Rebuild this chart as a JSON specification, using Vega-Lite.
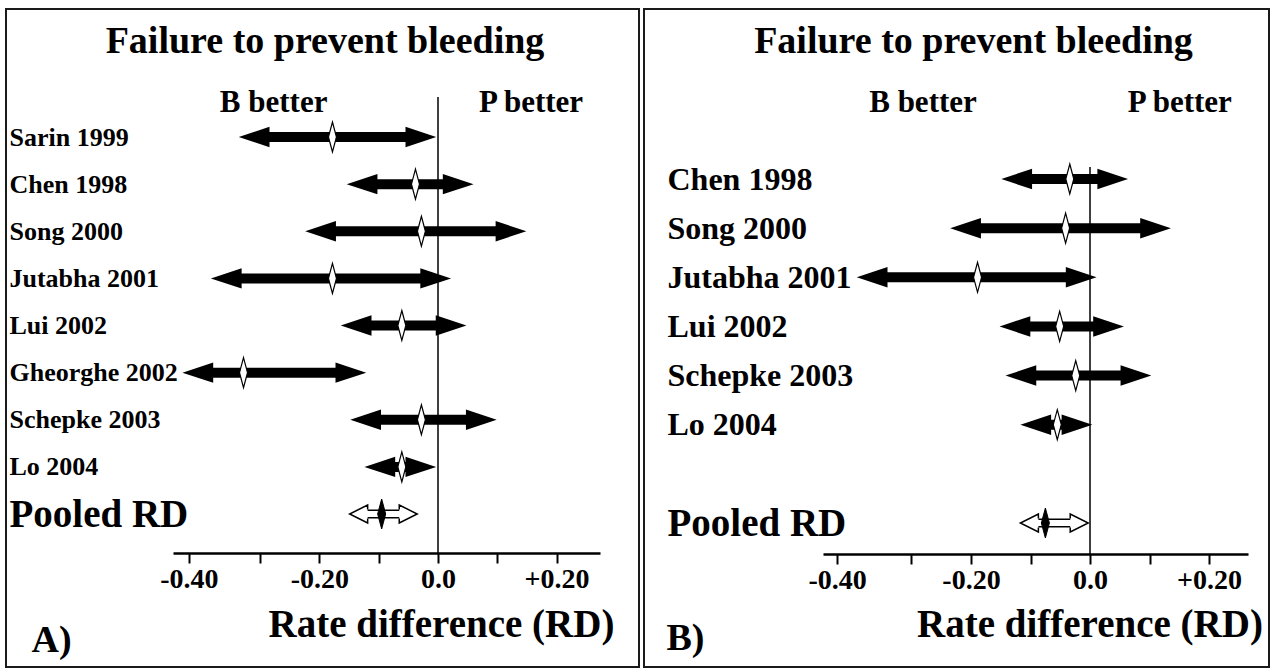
{
  "$schema": "https://vega.github.io/schema/vega-lite/v6.json",
  "padding": {"left": 5, "top": 8, "right": 0, "bottom": 0},
  "autosize": {"type": "pad"},
  "background": "white",
  "spacing": 3,
  "config": {
    "font": "Liberation Serif",
    "view": {"stroke": "#1a1a1a", "strokeWidth": 2, "fill": "white"},
    "axis": {"labelFont": "Liberation Serif", "titleFont": "Liberation Serif", "grid": false}
  },
  "datasets": {
    "a": [
      {"study": "Sarin 1999", "lo": -0.336, "est": -0.178, "hi": -0.003},
      {"study": "Chen 1998", "lo": -0.154, "est": -0.038, "hi": 0.060},
      {"study": "Song 2000", "lo": -0.224, "est": -0.028, "hi": 0.149},
      {"study": "Jutabha 2001", "lo": -0.383, "est": -0.178, "hi": 0.022},
      {"study": "Lui 2002", "lo": -0.164, "est": -0.061, "hi": 0.048},
      {"study": "Gheorghe 2002", "lo": -0.431, "est": -0.328, "hi": -0.121},
      {"study": "Schepke 2003", "lo": -0.148, "est": -0.028, "hi": 0.099},
      {"study": "Lo 2004", "lo": -0.124, "est": -0.061, "hi": -0.003},
      {"study": "Pooled RD", "lo": -0.149, "est": -0.095, "hi": -0.035}
    ],
    "b": [
      {"study": "Chen 1998", "lo": -0.149, "est": -0.034, "hi": 0.064},
      {"study": "Song 2000", "lo": -0.235, "est": -0.041, "hi": 0.136},
      {"study": "Jutabha 2001", "lo": -0.392, "est": -0.189, "hi": 0.011},
      {"study": "Lui 2002", "lo": -0.152, "est": -0.051, "hi": 0.057},
      {"study": "Schepke 2003", "lo": -0.142, "est": -0.024, "hi": 0.103},
      {"study": "Lo 2004", "lo": -0.117, "est": -0.055, "hi": 0.004},
      {"study": "Pooled RD", "lo": -0.117, "est": -0.075, "hi": -0.003}
    ]
  },
  "hconcat": [
    {
      "width": 633,
      "height": 658,
      "data": {"name": "a"},
      "resolve": {"axis": {"x": "independent"}},
      "layer": [
        {
          "transform": [{"filter": "datum.study == 'Pooled RD'"}],
          "mark": {"type": "rule", "color": "black", "strokeWidth": 1.5, "yOffset": -40, "y2Offset": 39},
          "encoding": {
            "x": {"datum": 0, "type": "quantitative",
              "axis": {"orient": "top", "offset": -102, "values": [-0.278, 0.156], "labelExpr": "datum.value < 0 ? 'B better' : 'P better'", "domain": false, "ticks": false, "tickSize": 0, "labelPadding": 0, "labelBaseline": "alphabetic", "labelFontSize": 31, "labelFontWeight": "bold", "labelColor": "black", "labelFlush": false, "labelOverlap": false, "labelLimit": 0, "title": "Failure to prevent bleeding", "titleFontSize": 38, "titleFontWeight": "bold", "titleColor": "black", "titleX": 318.5, "titleY": -59, "titleAlign": "center", "titleBaseline": "alphabetic", "titleLimit": 0, "minExtent": 0, "maxExtent": 0}},
            "y": {"datum": "Sarin 1999", "type": "nominal"},
            "y2": {"datum": "Pooled RD"}
          }
        },
        {
          "transform": [{"filter": "datum.study != 'Pooled RD'"}],
          "mark": {"type": "rule", "color": "black", "strokeWidth": 10, "strokeCap": "butt", "xOffset": 20, "x2Offset": -20},
          "encoding": {
            "x": {"field": "lo", "type": "quantitative",
              "scale": {"domain": [-0.4469, 0.2732], "range": [167, 594], "nice": false, "zero": false},
              "axis": {"orient": "bottom", "offset": -114, "values": [-0.42, -0.3, -0.2, -0.1, 0, 0.1, 0.2], "labelExpr": "datum.value < -0.41 ? '-0.40' : datum.value == -0.2 ? '-0.20' : datum.value == 0 ? '0.0' : datum.value == 0.2 ? '+0.20' : ''", "domainColor": "black", "domainWidth": 2.5, "tickColor": "black", "tickWidth": 2, "tickSize": 10, "labelFontSize": 28, "labelFontWeight": "bold", "labelColor": "black", "labelBaseline": "alphabetic", "labelPadding": 24, "labelFlush": false, "labelOverlap": false, "labelLimit": 0, "title": "Rate difference (RD)", "titleFontSize": 39, "titleFontWeight": "bold", "titleColor": "black", "titleX": 435, "titleY": 83, "titleBaseline": "alphabetic", "titleAlign": "center", "titleLimit": 0, "minExtent": 0, "maxExtent": 0}},
            "x2": {"field": "hi"},
            "y": {"field": "study", "type": "nominal",
              "scale": {"type": "point", "domain": ["Sarin 1999", "Chen 1998", "Song 2000", "Jutabha 2001", "Lui 2002", "Gheorghe 2002", "Schepke 2003", "Lo 2004", "Pooled RD"], "range": [128, 505], "padding": 0},
              "axis": {"orient": "left", "domain": false, "ticks": false, "tickSize": 0, "labelAlign": "left", "labelPadding": -3, "labelBaseline": "middle", "labelFontWeight": "bold", "labelColor": "black", "labelFontSize": {"condition": {"test": "datum.value == 'Pooled RD'", "value": 39}, "value": 26}, "labelLimit": 0, "labelOverlap": false, "title": "A)", "titleAngle": 0, "titleX": 45, "titleY": 642, "titleAlign": "center", "titleBaseline": "alphabetic", "titleFontSize": 38, "titleFontWeight": "bold", "titleColor": "black", "minExtent": 0, "maxExtent": 0}}
          }
        },
        {
          "transform": [{"filter": "datum.study != 'Pooled RD'"}],
          "mark": {"type": "point", "shape": "M0,0L3,-1L3,1Z", "size": 420, "filled": true, "color": "black", "opacity": 1, "strokeWidth": 0},
          "encoding": {"x": {"field": "lo", "type": "quantitative", "axis": null}, "y": {"field": "study", "type": "nominal"}}
        },
        {
          "transform": [{"filter": "datum.study != 'Pooled RD'"}],
          "mark": {"type": "point", "shape": "M0,0L-3,-1L-3,1Z", "size": 420, "filled": true, "color": "black", "opacity": 1, "strokeWidth": 0},
          "encoding": {"x": {"field": "hi", "type": "quantitative", "axis": null}, "y": {"field": "study", "type": "nominal"}}
        },
        {
          "transform": [{"filter": "datum.study != 'Pooled RD'"}],
          "mark": {"type": "point", "shape": "M0,-3.75L1,0L0,3.75L-1,0Z", "size": 64, "filled": true, "fill": "white", "stroke": "black", "strokeWidth": 1.2, "opacity": 1},
          "encoding": {"x": {"field": "est", "type": "quantitative", "axis": null}, "y": {"field": "study", "type": "nominal"}}
        },
        {
          "transform": [{"filter": "datum.study == 'Pooled RD'"}],
          "mark": {"type": "rule", "color": "black", "strokeWidth": 9, "strokeCap": "butt", "xOffset": 12, "x2Offset": -12},
          "encoding": {"x": {"field": "lo", "type": "quantitative", "axis": null}, "x2": {"field": "hi"}, "y": {"field": "study", "type": "nominal"}}
        },
        {
          "transform": [{"filter": "datum.study == 'Pooled RD'"}],
          "mark": {"type": "rule", "color": "white", "strokeWidth": 6, "strokeCap": "butt", "xOffset": 12, "x2Offset": -12},
          "encoding": {"x": {"field": "lo", "type": "quantitative", "axis": null}, "x2": {"field": "hi"}, "y": {"field": "study", "type": "nominal"}}
        },
        {
          "transform": [{"filter": "datum.study == 'Pooled RD'"}],
          "mark": {"type": "point", "shape": "M2,-0.5L2,-1L0,0L2,1L2,0.5", "size": 324, "filled": true, "fill": "white", "stroke": "black", "strokeWidth": 1.5, "opacity": 1},
          "encoding": {"x": {"field": "lo", "type": "quantitative", "axis": null}, "y": {"field": "study", "type": "nominal"}}
        },
        {
          "transform": [{"filter": "datum.study == 'Pooled RD'"}],
          "mark": {"type": "point", "shape": "M-2,-0.5L-2,-1L0,0L-2,1L-2,0.5", "size": 324, "filled": true, "fill": "white", "stroke": "black", "strokeWidth": 1.5, "opacity": 1},
          "encoding": {"x": {"field": "hi", "type": "quantitative", "axis": null}, "y": {"field": "study", "type": "nominal"}}
        },
        {
          "transform": [{"filter": "datum.study == 'Pooled RD'"}],
          "mark": {"type": "point", "shape": "M0,-3.75L1,0L0,3.75L-1,0Z", "size": 64, "filled": true, "fill": "black", "stroke": "black", "strokeWidth": 1, "opacity": 1},
          "encoding": {"x": {"field": "est", "type": "quantitative", "axis": null}, "y": {"field": "study", "type": "nominal"}}
        }
      ]
    },
    {
      "width": 625,
      "height": 658,
      "data": {"name": "b"},
      "resolve": {"axis": {"x": "independent"}},
      "layer": [
        {
          "transform": [{"filter": "datum.study == 'Pooled RD'"}],
          "mark": {"type": "rule", "color": "black", "strokeWidth": 1.5, "yOffset": -12, "y2Offset": 31},
          "encoding": {
            "x": {"datum": 0, "type": "quantitative",
              "axis": {"orient": "top", "offset": -102, "values": [-0.2815, 0.150], "labelExpr": "datum.value < 0 ? 'B better' : 'P better'", "domain": false, "ticks": false, "tickSize": 0, "labelPadding": 0, "labelBaseline": "alphabetic", "labelFontSize": 31, "labelFontWeight": "bold", "labelColor": "black", "labelFlush": false, "labelOverlap": false, "labelLimit": 0, "title": "Failure to prevent bleeding", "titleFontSize": 38, "titleFontWeight": "bold", "titleColor": "black", "titleX": 329, "titleY": -59, "titleAlign": "center", "titleBaseline": "alphabetic", "titleLimit": 0, "minExtent": 0, "maxExtent": 0}},
            "y": {"datum": "Chen 1998", "type": "nominal"},
            "y2": {"datum": "Pooled RD"}
          }
        },
        {
          "transform": [{"filter": "datum.study != 'Pooled RD'"}],
          "mark": {"type": "rule", "color": "black", "strokeWidth": 10, "strokeCap": "butt", "xOffset": 20, "x2Offset": -20},
          "encoding": {
            "x": {"field": "lo", "type": "quantitative",
              "scale": {"domain": [-0.4487, 0.2655], "range": [179, 604], "nice": false, "zero": false},
              "axis": {"orient": "bottom", "offset": -113, "values": [-0.425, -0.3, -0.2, -0.1, 0, 0.1, 0.2], "labelExpr": "datum.value < -0.41 ? '-0.40' : datum.value == -0.2 ? '-0.20' : datum.value == 0 ? '0.0' : datum.value == 0.2 ? '+0.20' : ''", "domainColor": "black", "domainWidth": 2.5, "tickColor": "black", "tickWidth": 2, "tickSize": 10, "labelFontSize": 28, "labelFontWeight": "bold", "labelColor": "black", "labelBaseline": "alphabetic", "labelPadding": 24, "labelFlush": false, "labelOverlap": false, "labelLimit": 0, "title": "Rate difference (RD)", "titleFontSize": 39, "titleFontWeight": "bold", "titleColor": "black", "titleX": 445.5, "titleY": 82, "titleBaseline": "alphabetic", "titleAlign": "center", "titleLimit": 0, "minExtent": 0, "maxExtent": 0}},
            "x2": {"field": "hi"},
            "y": {"field": "study", "type": "nominal",
              "scale": {"type": "point", "domain": ["Chen 1998", "Song 2000", "Jutabha 2001", "Lui 2002", "Schepke 2003", "Lo 2004", " ", "Pooled RD"], "range": [170, 514], "padding": 0},
              "axis": {"orient": "left", "domain": false, "ticks": false, "tickSize": 0, "labelAlign": "left", "labelPadding": -23, "labelBaseline": "middle", "labelFontWeight": "bold", "labelColor": "black", "labelFontSize": {"condition": {"test": "datum.value == 'Pooled RD'", "value": 39}, "value": 32}, "labelLimit": 0, "labelOverlap": false, "title": "B)", "titleAngle": 0, "titleX": 41, "titleY": 640, "titleAlign": "center", "titleBaseline": "alphabetic", "titleFontSize": 38, "titleFontWeight": "bold", "titleColor": "black", "minExtent": 0, "maxExtent": 0}}
          }
        },
        {
          "transform": [{"filter": "datum.study != 'Pooled RD'"}],
          "mark": {"type": "point", "shape": "M0,0L3,-1L3,1Z", "size": 420, "filled": true, "color": "black", "opacity": 1, "strokeWidth": 0},
          "encoding": {"x": {"field": "lo", "type": "quantitative", "axis": null}, "y": {"field": "study", "type": "nominal"}}
        },
        {
          "transform": [{"filter": "datum.study != 'Pooled RD'"}],
          "mark": {"type": "point", "shape": "M0,0L-3,-1L-3,1Z", "size": 420, "filled": true, "color": "black", "opacity": 1, "strokeWidth": 0},
          "encoding": {"x": {"field": "hi", "type": "quantitative", "axis": null}, "y": {"field": "study", "type": "nominal"}}
        },
        {
          "transform": [{"filter": "datum.study != 'Pooled RD'"}],
          "mark": {"type": "point", "shape": "M0,-3.75L1,0L0,3.75L-1,0Z", "size": 64, "filled": true, "fill": "white", "stroke": "black", "strokeWidth": 1.2, "opacity": 1},
          "encoding": {"x": {"field": "est", "type": "quantitative", "axis": null}, "y": {"field": "study", "type": "nominal"}}
        },
        {
          "transform": [{"filter": "datum.study == 'Pooled RD'"}],
          "mark": {"type": "rule", "color": "black", "strokeWidth": 9, "strokeCap": "butt", "xOffset": 12, "x2Offset": -12},
          "encoding": {"x": {"field": "lo", "type": "quantitative", "axis": null}, "x2": {"field": "hi"}, "y": {"field": "study", "type": "nominal"}}
        },
        {
          "transform": [{"filter": "datum.study == 'Pooled RD'"}],
          "mark": {"type": "rule", "color": "white", "strokeWidth": 6, "strokeCap": "butt", "xOffset": 12, "x2Offset": -12},
          "encoding": {"x": {"field": "lo", "type": "quantitative", "axis": null}, "x2": {"field": "hi"}, "y": {"field": "study", "type": "nominal"}}
        },
        {
          "transform": [{"filter": "datum.study == 'Pooled RD'"}],
          "mark": {"type": "point", "shape": "M2,-0.5L2,-1L0,0L2,1L2,0.5", "size": 324, "filled": true, "fill": "white", "stroke": "black", "strokeWidth": 1.5, "opacity": 1},
          "encoding": {"x": {"field": "lo", "type": "quantitative", "axis": null}, "y": {"field": "study", "type": "nominal"}}
        },
        {
          "transform": [{"filter": "datum.study == 'Pooled RD'"}],
          "mark": {"type": "point", "shape": "M-2,-0.5L-2,-1L0,0L-2,1L-2,0.5", "size": 324, "filled": true, "fill": "white", "stroke": "black", "strokeWidth": 1.5, "opacity": 1},
          "encoding": {"x": {"field": "hi", "type": "quantitative", "axis": null}, "y": {"field": "study", "type": "nominal"}}
        },
        {
          "transform": [{"filter": "datum.study == 'Pooled RD'"}],
          "mark": {"type": "point", "shape": "M0,-3.75L1,0L0,3.75L-1,0Z", "size": 64, "filled": true, "fill": "black", "stroke": "black", "strokeWidth": 1, "opacity": 1},
          "encoding": {"x": {"field": "est", "type": "quantitative", "axis": null}, "y": {"field": "study", "type": "nominal"}}
        }
      ]
    }
  ]
}
